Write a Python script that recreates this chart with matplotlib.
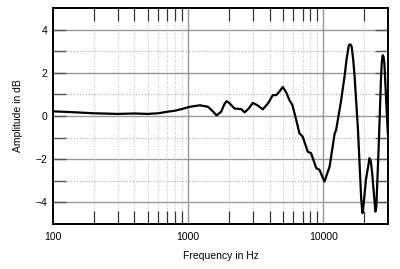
import numpy as np
import matplotlib
matplotlib.use('Agg')
import matplotlib.pyplot as plt
from matplotlib.ticker import FixedLocator, NullFormatter

plt.rcParams['font.family'] = ['Liberation Sans', 'DejaVu Sans']

# frequency response
freq = [100, 150, 200, 300, 400, 500, 600, 700, 800, 900, 1030, 1220, 1400, 1520, 1620,
        1750, 1850, 1920, 2000, 2200, 2470, 2610, 2800, 3000, 3250, 3560, 3900, 4220,
        4470, 4750, 5000, 5300, 5600, 5900, 6300, 6640, 7020, 7650, 8100, 8840, 9350,
        9800, 10190, 10600, 11100, 12100, 12400, 13400, 14300, 14800, 15400, 15800,
        16150, 16600, 17000, 18000, 19000, 19400, 19800, 20600, 21900, 22400, 22900,
        24200, 24600, 25600, 26600, 27000, 27400, 27800, 28200, 29900]
db = [0.22, 0.17, 0.13, 0.1, 0.12, 0.1, 0.13, 0.2, 0.25, 0.33, 0.43, 0.5, 0.43, 0.22, 0.03,
      0.2, 0.55, 0.69, 0.62, 0.35, 0.32, 0.17, 0.35, 0.61, 0.5, 0.31, 0.6, 0.97,
      0.97, 1.15, 1.35, 1.1, 0.74, 0.5, -0.2, -0.8, -0.95, -1.65, -1.72, -2.41, -2.49,
      -2.8, -3.03, -2.7, -2.34, -0.8, -0.65, 0.59, 1.81, 2.6, 3.28, 3.32,
      3.23, 2.6, 1.81, -0.65, -3.8, -4.49, -4.1, -2.95, -1.95, -2.1, -2.63,
      -4.42, -4.2, -1.42, 1.66, 2.5, 2.82, 2.75, 2.45, -0.8]

fig = plt.figure(figsize=(4, 2.69), dpi=100)
ax = fig.add_axes([0.1325, 0.167, 0.8375, 0.803])

ax.set_xscale('log')
ax.set_xlim(100, 30000)
ax.set_ylim(-5, 5)

# grid
for v in [-4, -2, 0, 2, 4]:
    ax.axhline(v, color='#999999', lw=1.0, zorder=1)
for v in [-3, -1, 1, 3]:
    ax.axhline(v, color='#aaaaaa', lw=0.8, ls=':', zorder=1)
for v in [1000, 10000]:
    ax.axvline(v, color='#999999', lw=1.0, zorder=1)
minor_x = [m * d for d in [100, 1000, 10000] for m in range(2, 10) if m * d < 30000]
for v in minor_x:
    ax.axvline(v, color='#bbbbbb', lw=0.7, ls=':', zorder=1)

ax.plot(freq, db, color='black', lw=1.6, zorder=3, solid_joinstyle='round')

# ticks
ax.xaxis.set_major_locator(FixedLocator([100, 1000, 10000]))
ax.xaxis.set_minor_locator(FixedLocator(minor_x))
ax.xaxis.set_minor_formatter(NullFormatter())
ax.set_xticklabels(['100', '1000', '10000'])
ax.set_yticks([-4, -2, 0, 2, 4])
ax.set_yticks([-3, -1, 1, 3], minor=True)
ax.tick_params(axis='x', which='major', length=0, labelsize=7.5, pad=6)
ax.tick_params(axis='x', which='minor', direction='in', length=9.5, width=0.9,
               top=True, bottom=True, color='#333333')
ax.tick_params(axis='y', which='both', direction='in', length=9.5, width=1.0,
               left=True, right=True, color='#555555', labelsize=7.5, pad=4)

for s in ax.spines.values():
    s.set_linewidth(1.4)

ax.set_xlabel('Frequency in Hz', fontsize=7.5, labelpad=6)
ax.set_ylabel('Amplitude in dB', fontsize=7.5, labelpad=9)

plt.savefig('out.png', dpi=100)
